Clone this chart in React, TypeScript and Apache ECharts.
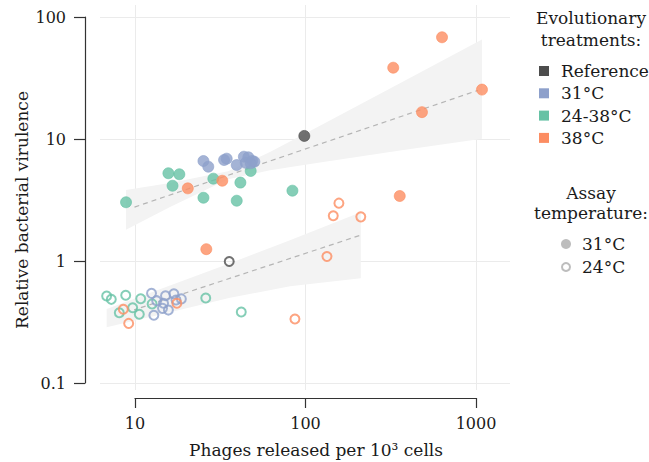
import React, { useEffect, useRef } from "react";
import * as echarts from "echarts";

const FONT = '"DejaVu Serif", serif';
const TEXT = "#1a1a1a";

// axis ticks
const xTicks = [10, 100, 1000];
const yTicks = [0.1, 1, 10, 100];

// legend
const treatments = ["Reference", "31°C", "24-38°C", "38°C"];
const treatmentColors = ["#4d4d4d", "#8da0cb", "#66c2a5", "#fc8d62"];
const assayTemps = ["31°C", "24°C"];

// Assay at 31°C (filled points): [phages per 10^3 cells, relative virulence]
const ref31 = [[98.4, 10.6]];
const t31_31 = [
  [25.2, 6.6], [26.9, 5.93], [33.3, 6.73], [34.5, 6.9], [39.5, 6.12], [43.5, 7.16],
  [46.2, 7.08], [44.6, 6.38], [48.7, 6.6], [50.1, 6.52], [47.7, 6.32],
];
const t2438_31 = [
  [8.86, 3.03], [15.7, 5.24], [18.2, 5.14], [16.6, 4.14], [25.2, 3.3],
  [28.8, 4.73], [39.5, 3.12], [41.5, 4.39], [47.7, 5.47], [83.8, 3.77],
];
const t38_31 = [
  [20.4, 3.94], [32.5, 4.55], [26.2, 1.25], [632, 68.2],
  [327, 38.4], [1084, 25.4], [482, 16.6], [357, 3.41],
];

// Assay at 24°C (open points)
const ref24 = [[35.7, 0.99]];
const t31_24 = [
  [12.5, 0.543], [15.1, 0.519], [16.9, 0.539], [18.7, 0.489], [13.4, 0.473],
  [14.7, 0.45], [14.5, 0.409], [15.7, 0.396], [12.9, 0.359], [17.4, 0.479],
];
const t2438_24 = [
  [6.82, 0.517], [7.26, 0.485], [8.82, 0.524], [8.09, 0.377], [9.69, 0.414],
  [10.6, 0.366], [10.8, 0.491], [12.6, 0.445], [26.0, 0.498], [42.0, 0.382],
];
const t38_24 = [
  [8.54, 0.402], [9.18, 0.308], [17.6, 0.45], [157, 2.98],
  [145.5, 2.35], [211, 2.3], [133.6, 1.09], [86.7, 0.335],
];

// regression fits
const fit31X = [8.85, 1084];
const fit31Y = [2.62, 25.7];
const fit24X = [6.82, 211];
const fit24Y = [0.335, 1.63];

// confidence ribbons
const band31X = [8.85, 16.05, 35.1, 61.9, 121.6, 358, 1084];
const band31Lo = [1.8, 2.77, 4.67, 5.55, 6.41, 8.03, 10.07];
const band31Hi = [3.82, 4.36, 5.43, 7.82, 12.85, 28.7, 65.5];
const band24X = [6.82, 16.05, 36.1, 81.1, 211];
const band24Lo = [0.286, 0.38, 0.499, 0.622, 0.721];
const band24Hi = [0.404, 0.63, 0.959, 1.48, 2.51];

function ribbon(xs: number[], lo: number[], hi: number[]) {
  return {
    type: "custom",
    xAxisIndex: 0,
    yAxisIndex: 0,
    silent: true,
    z: 1,
    data: xs.map((x, i) => [x, lo[i], hi[i]]),
    encode: { x: 0, y: [1, 2] },
    renderItem: (params: any, api: any) => {
      if (params.dataIndex !== 0) return null;
      const pts: number[][] = [];
      for (let i = 0; i < xs.length; i++) pts.push(api.coord([xs[i], hi[i]]));
      for (let i = xs.length - 1; i >= 0; i--) pts.push(api.coord([xs[i], lo[i]]));
      return { type: "polygon", shape: { points: pts }, style: { fill: "#f3f3f3" } };
    },
  };
}

function fitLine(xs: number[], ys: number[]) {
  return {
    type: "line",
    xAxisIndex: 0,
    yAxisIndex: 0,
    silent: true,
    clip: false,
    z: 2,
    symbol: "none",
    data: xs.map((x, i) => [x, ys[i]]),
    lineStyle: { color: "#b5b5b5", width: 1.2, type: [5, 4] },
  };
}

function filled(data: number[][], color: string) {
  return {
    type: "scatter",
    xAxisIndex: 0,
    yAxisIndex: 0,
    silent: true,
    clip: false,
    z: 3,
    symbol: "circle",
    symbolSize: 11,
    data,
    itemStyle: { color, opacity: 0.8, borderColor: color, borderWidth: 0.8 },
  };
}

function hollow(data: number[][], color: string) {
  return {
    type: "scatter",
    xAxisIndex: 0,
    yAxisIndex: 0,
    silent: true,
    clip: false,
    z: 3,
    symbol: "circle",
    symbolSize: 9,
    data,
    itemStyle: { color: "rgba(0,0,0,0)", opacity: 0.8, borderColor: color, borderWidth: 2 },
  };
}

const lbl = (text: string, x: number, y: number, align = "left", extra: any = {}) => ({
  type: "text",
  x,
  y,
  ...extra,
  style: {
    text,
    fontFamily: FONT,
    fontSize: 17,
    fill: TEXT,
    align,
    textAlign: align,
    verticalAlign: "middle",
    textVerticalAlign: "middle",
  },
});

export default function App() {
  const ref = useRef<HTMLDivElement>(null);
  useEffect(() => {
    const chart = echarts.init(ref.current!, null, { renderer: "svg" });
    const gridLine = { show: true, lineStyle: { color: "#ebebeb", width: 1 } };
    const legendItems: any[] = [];
    treatments.forEach((t, i) => {
      const y = 71 + i * 22.3;
      legendItems.push({
        type: "rect",
        shape: { x: 539, y: y - 5, width: 10, height: 10 },
        style: { fill: treatmentColors[i] },
      });
      legendItems.push(lbl(t, 561, y));
    });
    assayTemps.forEach((t, i) => {
      const y = 244 + i * 23;
      legendItems.push(
        i === 0
          ? { type: "circle", shape: { cx: 566, cy: y, r: 5 }, style: { fill: "#bdbdbd" } }
          : {
              type: "circle",
              shape: { cx: 566, cy: y, r: 4 },
              style: { fill: "none", stroke: "#bdbdbd", lineWidth: 2 },
            }
      );
      legendItems.push(lbl(t, 582, y));
    });

    const option: any = {
      animation: false,
      backgroundColor: "#ffffff",
      textStyle: { fontFamily: FONT },
      grid: [
        { left: 135, top: 17, width: 341, height: 366 },
        { left: 135, top: 5, width: 341, height: 385 },
        { left: 100, top: 17, width: 410, height: 366 },
      ],
      xAxis: [
        {
          gridIndex: 0,
          type: "log",
          logBase: 10,
          min: xTicks[0],
          max: xTicks[xTicks.length - 1],
          position: "bottom",
          offset: 15,
          axisLine: { show: true, lineStyle: { color: "#333", width: 1.2 } },
          axisTick: { show: true, length: 10, lineStyle: { color: "#333", width: 1.2 } },
          axisLabel: {
            margin: 17,
            fontFamily: FONT,
            fontSize: 16,
            color: TEXT,
            formatter: (v: number) => String(v),
          },
          splitLine: { show: false },
          minorTick: { show: false },
        },
        {
          gridIndex: 1,
          type: "log",
          logBase: 10,
          min: xTicks[0],
          max: xTicks[xTicks.length - 1],
          axisLine: { show: false },
          axisTick: { show: false },
          axisLabel: { show: false },
          splitLine: gridLine,
        },
        { gridIndex: 2, type: "value", show: false },
      ],
      yAxis: [
        {
          gridIndex: 0,
          type: "log",
          logBase: 10,
          min: yTicks[0],
          max: yTicks[yTicks.length - 1],
          position: "left",
          offset: 50,
          axisLine: { show: true, lineStyle: { color: "#333", width: 1.2 } },
          axisTick: { show: true, length: 11, lineStyle: { color: "#333", width: 1.2 } },
          axisLabel: {
            margin: 19,
            fontFamily: FONT,
            fontSize: 16,
            color: TEXT,
            formatter: (v: number) => String(v),
          },
          splitLine: { show: false },
        },
        { gridIndex: 1, type: "value", show: false },
        {
          gridIndex: 2,
          type: "log",
          logBase: 10,
          min: yTicks[0],
          max: yTicks[yTicks.length - 1],
          axisLine: { show: false },
          axisTick: { show: false },
          axisLabel: { show: false },
          splitLine: gridLine,
        },
      ],
      graphic: [
        lbl("Relative bacterial virulence", 22, 210, "center", { rotation: Math.PI / 2 }),
        lbl("Phages released per 10³ cells", 316, 450, "center"),
        lbl("Evolutionary", 591, 18, "center"),
        lbl("treatments:", 591, 40, "center"),
        lbl("Assay", 591, 193, "center"),
        lbl("temperature:", 591, 213, "center"),
        ...legendItems,
      ],
      series: [
        ribbon(band31X, band31Lo, band31Hi),
        ribbon(band24X, band24Lo, band24Hi),
        fitLine(fit31X, fit31Y),
        fitLine(fit24X, fit24Y),
        hollow(t2438_24, treatmentColors[2]),
        hollow(t31_24, treatmentColors[1]),
        hollow(t38_24, treatmentColors[3]),
        hollow(ref24, treatmentColors[0]),
        filled(t2438_31, treatmentColors[2]),
        filled(t31_31, treatmentColors[1]),
        filled(t38_31, treatmentColors[3]),
        filled(ref31, treatmentColors[0]),
      ],
    };
    chart.setOption(option);
    return () => chart.dispose();
  }, []);
  return (
    <div
      ref={ref}
      style={{ position: "fixed", left: 0, top: 0, width: 649, height: 462, background: "#fff" }}
    />
  );
}
